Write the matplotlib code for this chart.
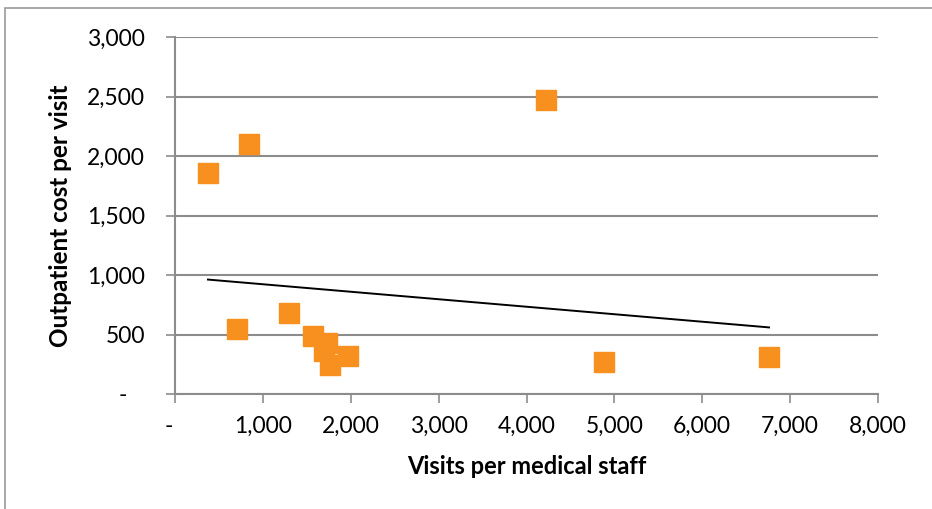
import matplotlib
matplotlib.use("Agg")
import matplotlib.pyplot as plt
import numpy as np
from matplotlib.patches import Rectangle
from matplotlib.ticker import FuncFormatter

# Visits per medical staff vs outpatient cost per visit
visits = [375, 840, 4220, 705, 1300, 1570, 1730, 1695, 1763, 1968, 4880, 6760]
cost = [1857, 2100, 2470, 545, 680, 487, 429, 361, 244, 319, 270, 310]

x_ticks = [0, 1000, 2000, 3000, 4000, 5000, 6000, 7000, 8000]
y_ticks = [0, 500, 1000, 1500, 2000, 2500, 3000]

x_label = "Visits per medical staff"
y_label = "Outpatient cost per visit"

W, H = 932, 509
fig = plt.figure(figsize=(W / 100, H / 100), dpi=100)
plt.rcParams['font.family'] = ['Lato', 'DejaVu Sans']

# outer chart frame
fig.patches.append(Rectangle((5 / W, -0.1), 1.2, (H - 8) / H + 0.1,
                             transform=fig.transFigure, fill=False,
                             edgecolor="#9a9a9a", linewidth=1.2))

ax_l, ax_r, ax_t, ax_b = 175, 878, 37, 394
ax = fig.add_axes([ax_l / W, (H - ax_b) / H, (ax_r - ax_l) / W, (ax_b - ax_t) / H])
grid_c = "#8c8c8c"
ax.set_xlim(0, 8000)
ax.set_ylim(0, 3000)
ax.set_xticks(x_ticks)
ax.set_yticks(y_ticks)

# accounting-style labels: zero shown as a dash with trailing padding
ax.xaxis.set_major_formatter(FuncFormatter(lambda v, p: "-  " if v == 0 else f"{int(v):,}"))
ax.yaxis.set_major_formatter(FuncFormatter(lambda v, p: "-   " if v == 0 else f"{int(v):,}"))

ax.yaxis.grid(True, color=grid_c, linewidth=1.5)
ax.set_axisbelow(True)
for s in ["top", "right"]:
    ax.spines[s].set_visible(False)
for s in ["left", "bottom"]:
    ax.spines[s].set_color(grid_c)
    ax.spines[s].set_linewidth(1.5)
ax.tick_params(axis="both", color=grid_c, width=1.2, length=6.5, labelsize=16.5,
               labelcolor="black")
ax.tick_params(axis="x", pad=9)
ax.tick_params(axis="y", pad=15)

ax.plot(visits, cost, linestyle="none", marker="s", markersize=14.4,
        color="#F7901E", markeredgecolor="#F7901E", zorder=3)

# linear trendline
k, b = np.polyfit(visits, cost, 1)
xs = np.array([min(visits), max(visits)])
ax.plot(xs, k * xs + b, color="black", linewidth=1.4, zorder=4)

ax.set_xlabel(x_label, fontsize=17, fontweight="bold", va="center")
ax.set_ylabel(y_label, fontsize=17.5, fontweight="bold", va="center")
ax.xaxis.set_label_coords(0.5, -(467 - ax_b) / (ax_b - ax_t))
ax.yaxis.set_label_coords(-(ax_l - 60) / (ax_r - ax_l), 0.5)

fig.savefig("out.png", dpi=100)
